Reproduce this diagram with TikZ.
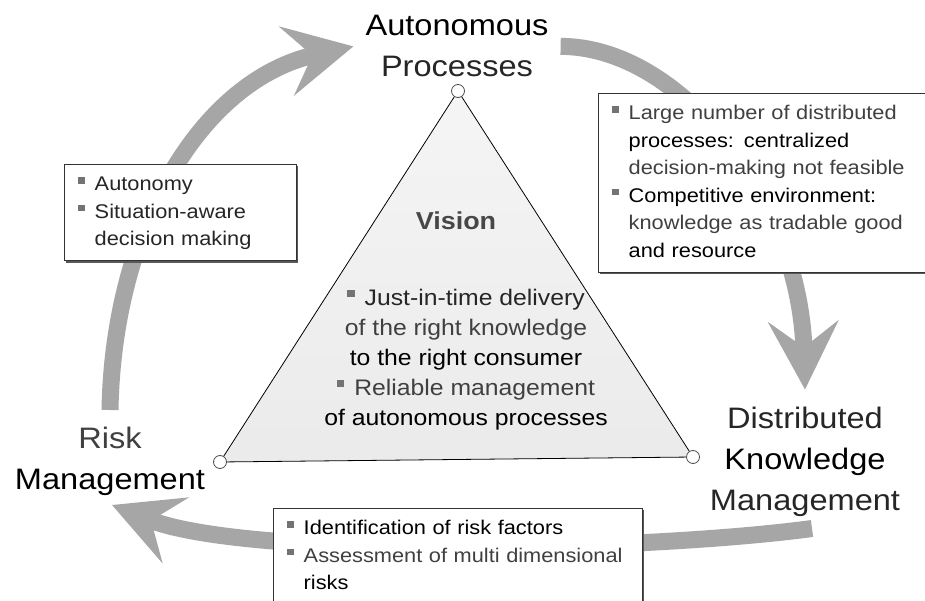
\documentclass[tikz,border=0pt]{standalone}
\usepackage{fontspec}
\setmainfont{Liberation Sans}[FakeStretch=1.1]
\usetikzlibrary{arrows.meta, shadows}

\definecolor{arrowgray}{gray}{0.65}
\definecolor{bulgray}{gray}{0.45}
\definecolor{txtgray}{gray}{0.15}
\definecolor{midgray}{gray}{0.25}

% little square bullet
\newcommand{\bul}{\textcolor{bulgray}{\rule[0.36em]{0.32em}{0.32em}}}

\tikzstyle{concept} = [align=center, inner sep=0pt, font=\fontsize{29.6}{41}\selectfont]
\tikzstyle{infobox} = [draw=black!80, fill=white, line width=0.8pt, anchor=north west, align=left,
  inner xsep=14pt, inner ysep=7pt, font=\fontsize{19.8}{27.5}\selectfont,
  drop shadow={shadow xshift=2pt, shadow yshift=-2pt, fill=black!65, opacity=1}]
\tikzstyle{vertex} = [circle, draw=black!70, fill=white, line width=0.8pt, minimum size=13pt, inner sep=0pt]
\tikzstyle{cyclearrow} = [line width=17pt, draw=arrowgray, -{Stealth[length=68pt, width=70pt, inset=26pt]}]

\begin{document}
\begin{tikzpicture}[x=1pt, y=-1pt]
    \path[use as bounding box, fill=white] (0,0) rectangle (925,601);

    % the three concepts
    \node[concept] (ap) at (457,46.4) {Autonomous\\{\color{txtgray}Processes}};
    \node[concept] (rm) at (110,461.5) {{\color{midgray}Risk}\\Management};
    \node[concept] (dkm) at (805,461.5) {{\color{txtgray}Distributed}\\Knowledge\\{\color{txtgray}Management}};

    % cycle arrows
    \draw[cyclearrow] ([yshift=17pt]rm.north) .. controls +(3,-180) and +(-153.6,33.6) .. ([xshift=-12pt]ap.west);
    \draw[cyclearrow] ([xshift=12pt]ap.east) .. controls +(120,0) and +(-5,-190) .. ([yshift=17pt]dkm.north);
    \draw[cyclearrow] ([xshift=7pt,yshift=-12pt]dkm.south) .. controls +(-162,22) and +(138,55) .. ([xshift=2pt,yshift=-9pt]rm.south);

    % vision triangle
    \coordinate (pa) at (458,91);
    \coordinate (pb) at (220,462);
    \coordinate (pc) at (693,457);
    \path[draw=black, line width=0.8pt, top color=black!4, bottom color=black!8] (pa) -- (pb) -- (pc) -- cycle;
    \node[vertex] (va) at (pa) {};
    \node[vertex] (vb) at (pb) {};
    \node[vertex] (vc) at (pc) {};

    \node[font=\fontsize{24.5}{30}\selectfont\bfseries, text=black!72, inner sep=0pt] (vision) at (456,221) {Vision};
    \node[font=\fontsize{22.5}{30}\selectfont, align=center, inner sep=0pt] (goals) at (466,359.3) {%
        {\color{txtgray}\bul\hspace{0.45em}Just-in-time delivery}\\
        {\color{midgray}of the right knowledge}\\
        to the right consumer\\
        {\color{midgray}\bul\hspace{0.45em}Reliable management}\\
        of autonomous processes};

    % boxes
    \node[infobox, text width=204pt, minimum height=95pt] (autbox) at (64,164) {%
        \begin{tabular}{@{}l@{\hspace{10pt}}l@{}}
        \bul & \textcolor{txtgray}{Autonomy}\\
        \bul & \textcolor{txtgray}{Situation-aware}\\
             & \textcolor{txtgray}{decision making}
        \end{tabular}};
    \node[infobox, text width=310pt] (kmbox) at (598,93) {%
        \begin{tabular}{@{}l@{\hspace{10pt}}l@{}}
        \bul & \textcolor{midgray}{Large number of distributed}\\
             & processes: centralized\\
             & \textcolor{midgray}{decision-making not feasible}\\
        \bul & Competitive environment:\\
             & \textcolor{midgray}{knowledge as tradable good}\\
             & and resource
        \end{tabular}};
    \node[infobox, text width=341pt] (riskbox) at (273,508) {%
        \begin{tabular}{@{}l@{\hspace{10pt}}l@{}}
        \bul & Identification of risk factors\\
        \bul & \textcolor{midgray}{Assessment of multi dimensional}\\
             & risks
        \end{tabular}};
\end{tikzpicture}
\end{document}
